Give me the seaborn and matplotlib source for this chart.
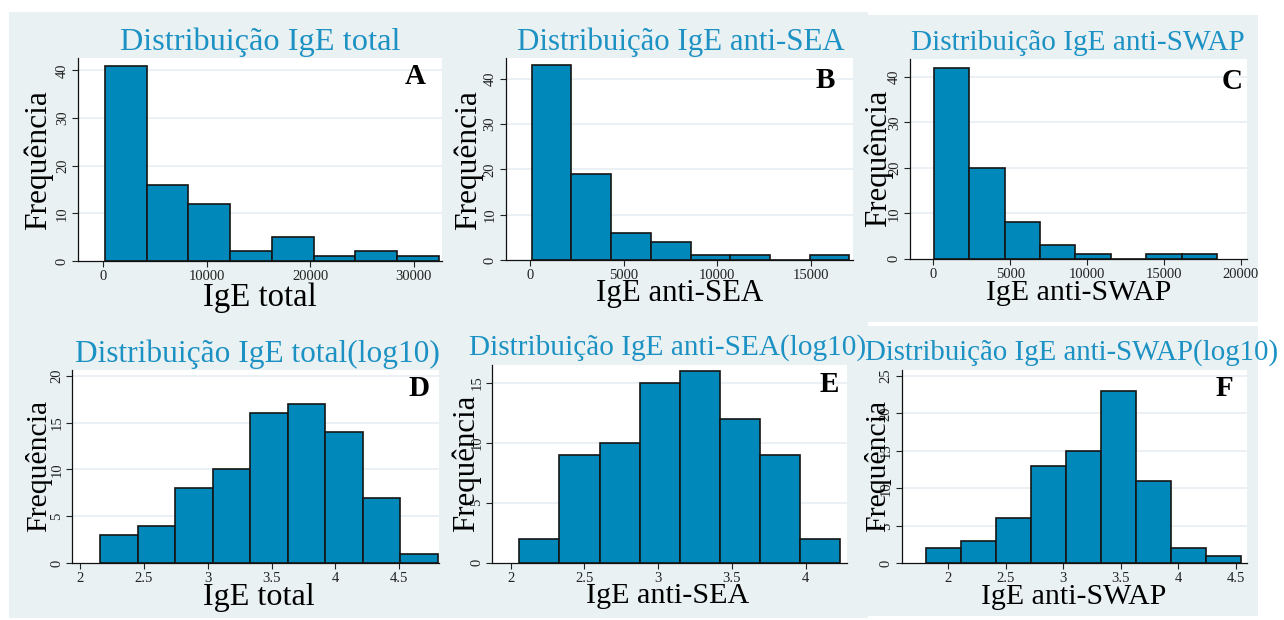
import numpy as np
import pandas as pd
import matplotlib
matplotlib.use("Agg")
import matplotlib.pyplot as plt
from matplotlib.patches import Rectangle
import seaborn as sns

# ---- histogram counts per panel ----
counts_total = [41, 16, 12, 2, 5, 1, 2, 1]
counts_sea = [43, 19, 6, 4, 1, 1, 0, 1]
counts_swap = [42, 20, 8, 3, 1, 0, 1, 1]
counts_total_log = [3, 4, 8, 10, 16, 17, 14, 7, 1]
counts_sea_log = [2, 9, 10, 15, 16, 12, 9, 2]
counts_swap_log = [2, 3, 6, 13, 15, 23, 11, 2, 1]

# bin start and width for each histogram
bins_total = (193, 4030)
bins_sea = (90, 2120)
bins_swap = (30, 2303)
bins_total_log = (2.157, 0.294)
bins_sea_log = (2.058, 0.272)
bins_swap_log = (1.806, 0.304)

titles = ["Distribuição IgE total", "Distribuição IgE anti-SEA", "Distribuição IgE anti-SWAP",
          "Distribuição IgE total(log10)", "Distribuição IgE anti-SEA(log10)",
          "Distribuição IgE anti-SWAP(log10)"]
xlabels = ["IgE total", "IgE anti-SEA", "IgE anti-SWAP",
           "IgE total", "IgE anti-SEA", "IgE anti-SWAP"]
letters = ["A", "B", "C", "D", "E", "F"]
ylabel = "Frequência"

xticks_total = [0, 10000, 20000, 30000]
xticks_sea = [0, 5000, 10000, 15000]
xticks_swap = [0, 5000, 10000, 15000, 20000]
xticks_total_log = [2, 2.5, 3, 3.5, 4, 4.5]
xticks_sea_log = [2, 2.5, 3, 3.5, 4]
xticks_swap_log = [2, 2.5, 3, 3.5, 4, 4.5]

yticks_top = [0, 10, 20, 30, 40]
yticks_total_log = [0, 5, 10, 15, 20]
yticks_sea_log = [0, 5, 10, 15]
yticks_swap_log = [0, 5, 10, 15, 20, 25]

# ---- styling ----
sns.set_style("white")
plt.rcParams["font.family"] = ["Liberation Serif", "DejaVu Serif"]

BAR = "#0088BA"
EDGE = "#151515"
TITLE = "#1C91C3"
PANEL_BG = "#E9F1F3"
GRID = "#E6EEF1"

W, H = 1284, 620
fig = plt.figure(figsize=(W / 100, H / 100), dpi=100, facecolor="white")


def fx(x):
    return x / W


def fy(y):
    return 1 - y / H


def bg(x0, y0, x1, y1):
    fig.patches.append(Rectangle((fx(x0), fy(y1)), (x1 - x0) / W, (y1 - y0) / H,
                                 transform=fig.transFigure, facecolor=PANEL_BG,
                                 edgecolor="none", zorder=-5))


bg(9, 12, 868, 618)
bg(866, 15, 1258, 322)
bg(866, 326, 1258, 616)

panels = [
    # counts, bins, axes box px (x0, y0, x1, y1), xlim, ylim, xticks, yticks
    (counts_total, bins_total, (78, 58, 442, 261), (-2415, 32750), (0, 42.6), xticks_total, yticks_top),
    (counts_sea, bins_sea, (505.7, 58, 852.7, 260), (-1297, 17230), (0, 44.6), xticks_sea, yticks_top),
    (counts_swap, bins_swap, (910, 59, 1246.7, 258.7), (-1516, 20390), (0, 43.9), xticks_swap, yticks_top),
    (counts_total_log, bins_total_log, (72.3, 370, 439.3, 563.3), (1.94, 4.814), (0, 20.6), xticks_total_log, yticks_total_log),
    (counts_sea_log, bins_sea_log, (492.3, 365, 846.7, 562.7), (1.875, 4.278), (0, 16.5), xticks_sea_log, yticks_sea_log),
    (counts_swap_log, bins_swap_log, (901.7, 370, 1246.7, 563.3), (1.595, 4.595), (0, 25.8), xticks_swap_log, yticks_swap_log),
]

title_pos = [(260, 50), (681, 50), (1078, 50), (257, 361.7), (667.5, 355), (1071.7, 360)]
title_size = [23.3, 22.2, 21.1, 22.6, 21.1, 20.8]
ylabel_pos = [(38.5, 160), (468, 160), (878, 158), (39, 466), (466, 463), (878, 466)]
ylabel_size = [22.7, 22.7, 22.2, 21.4, 22.2, 21.4]
xlabel_pos = [(260, 298), (680, 294), (1079, 293), (259, 597.5), (668, 596), (1074, 597.5)]
xlabel_size = [23.6, 22.2, 21.5, 23.1, 21.7, 21.5]
letter_pos = [(415.5, 77), (825, 80), (1231.7, 81.7), (419, 389), (829, 385), (1224, 388)]


def fmt(v):
    return f"{v:g}"


for i, (counts, (start, width), box, xlim, ylim, xt, yt) in enumerate(panels):
    x0, y0, x1, y1 = box
    ax = fig.add_axes([fx(x0), fy(y1), (x1 - x0) / W, (y1 - y0) / H])
    n = len(counts)
    edges = [start + width * k for k in range(n + 1)]
    centers = [(edges[k] + edges[k + 1]) / 2 for k in range(n)]
    df = pd.DataFrame({"valor": centers, "n": counts})
    sns.histplot(data=df, x="valor", weights="n", bins=edges, ax=ax,
                 color=BAR, alpha=1, edgecolor=EDGE, linewidth=1.2, zorder=3)
    ax.set_facecolor("white")
    ax.set_xlim(*xlim)
    ax.set_ylim(*ylim)
    ax.set_xlabel("")
    ax.set_ylabel("")
    ax.set_xticks(xt)
    ax.set_xticklabels([fmt(v) for v in xt], fontsize=10.5)
    ax.set_yticks(yt)
    ax.set_yticklabels([fmt(v) for v in yt], fontsize=10.5, rotation=90, va="center")
    for v in yt[1:]:
        ax.axhline(v, color=GRID, lw=1.2, zorder=1)
    ax.tick_params(axis="both", direction="out", length=4, width=0.8, color="#222222",
                   pad=2.5, labelcolor="#222222", left=True, bottom=True)
    for s in ["top", "right"]:
        ax.spines[s].set_visible(False)
    for s in ["left", "bottom"]:
        ax.spines[s].set_color("#111111")
        ax.spines[s].set_linewidth(0.9)
        ax.spines[s].set_zorder(4)

    tx, ty = title_pos[i]
    fig.text(fx(tx), fy(ty), titles[i], color=TITLE, fontsize=title_size[i],
             ha="center", va="baseline", zorder=5)
    lx, ly = ylabel_pos[i]
    fig.text(fx(lx), fy(ly), ylabel, fontsize=ylabel_size[i], rotation=90,
             ha="center", va="center", color="black", zorder=5)
    bx, by = xlabel_pos[i]
    fig.text(fx(bx), fy(by), xlabels[i], fontsize=xlabel_size[i],
             ha="center", va="center", color="black", zorder=5)
    px, py = letter_pos[i]
    fig.text(fx(px), fy(py), letters[i], fontsize=21, fontweight="bold",
             ha="center", va="center", color="black", zorder=5)

fig.savefig("out.png", dpi=100, facecolor="white")
